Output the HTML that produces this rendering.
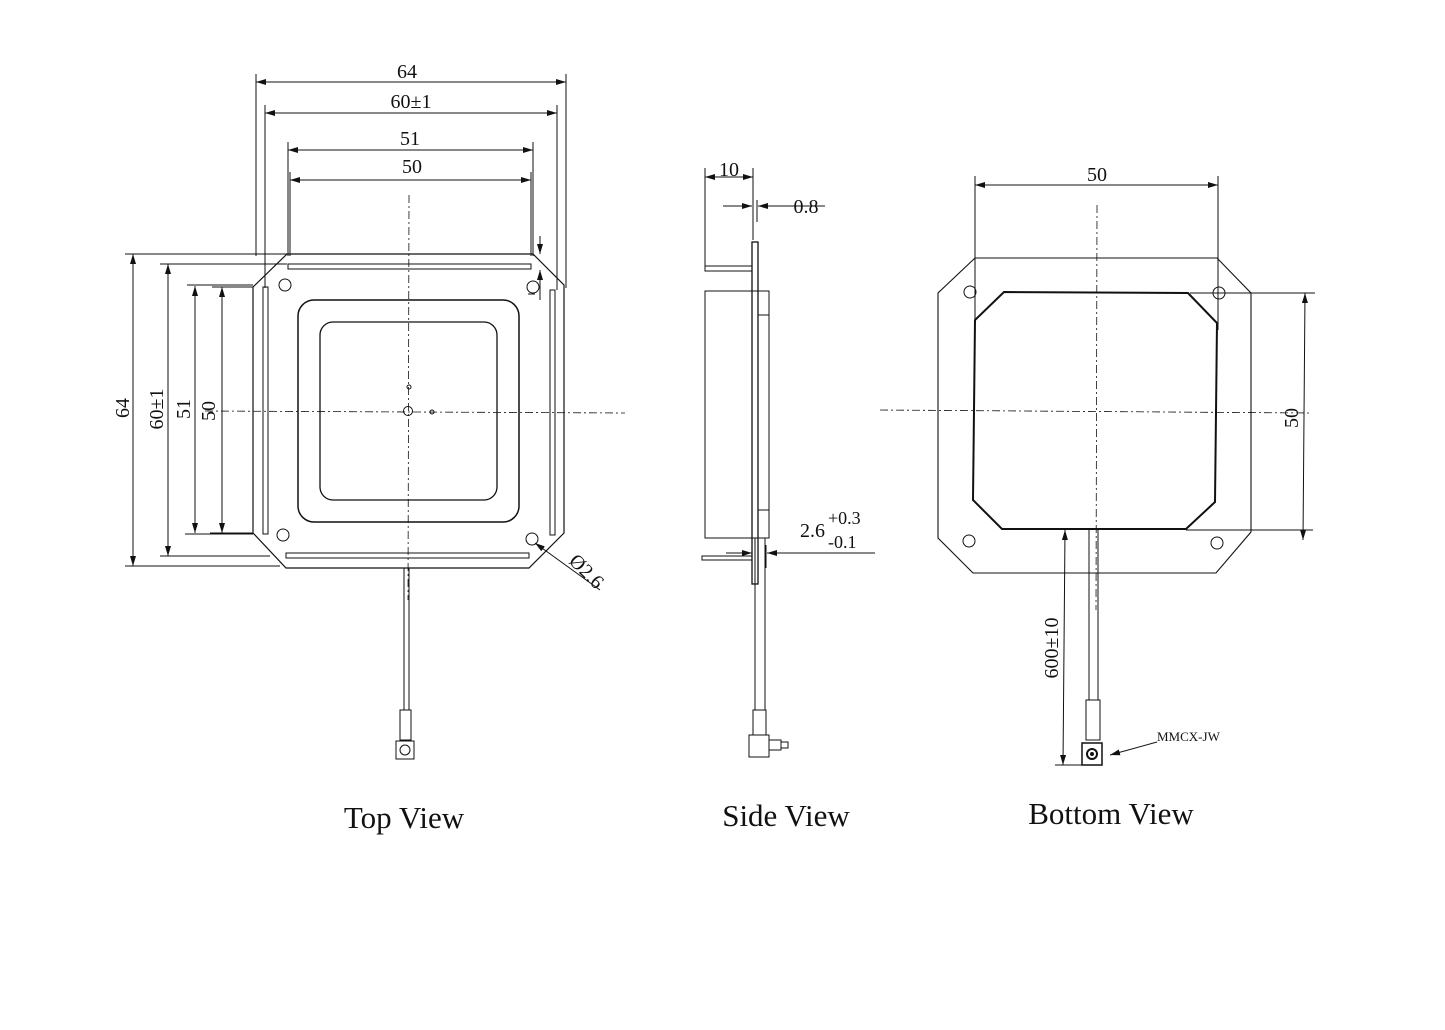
<!DOCTYPE html>
<html><head><meta charset="utf-8"><style>
html,body{margin:0;padding:0;background:#fff}
svg{display:block}
text{font-family:"Liberation Serif",serif;fill:#111}
</style></head><body>
<svg width="1445" height="1030" viewBox="0 0 1445 1030" xmlns="http://www.w3.org/2000/svg">
<defs>
<marker id="a" viewBox="0 0 10 6" refX="10" refY="3" markerWidth="10" markerHeight="6" orient="auto-start-reverse" markerUnits="userSpaceOnUse"><path d="M0,0 L10,3 L0,6z" fill="#111"/></marker>
</defs>
<g stroke="#111" fill="none" stroke-width="1">
<!-- TOP VIEW -->
<path d="M287,254 L533,254 L564,285 L564,533 L529,568 L286,568 L253,533 L253,287 Z" stroke-width="1.2"/>
<rect x="288" y="264" width="243" height="5"/>
<rect x="286" y="553" width="243" height="5"/>
<rect x="263" y="287" width="5" height="247"/>
<rect x="550" y="290" width="5" height="245"/>
<circle cx="285" cy="285" r="6"/><circle cx="533" cy="287" r="6"/>
<circle cx="283" cy="535" r="6"/><circle cx="532" cy="539" r="6"/>
<rect x="298" y="300" width="221" height="222" rx="16" stroke-width="1.5"/>
<rect x="320" y="322" width="177" height="178" rx="13" stroke-width="1.3"/>
<circle cx="408" cy="411" r="4.5"/><circle cx="409" cy="387" r="2"/><circle cx="432" cy="412" r="2"/>
<line x1="409" y1="195" x2="408" y2="600" stroke-dasharray="8,3,2,3" stroke-width="0.8"/>
<line x1="205" y1="411" x2="625" y2="413" stroke-dasharray="8,3,2,3" stroke-width="0.8"/>
<line x1="404" y1="568" x2="404" y2="710"/><line x1="409" y1="568" x2="409" y2="710"/>
<rect x="400" y="710" width="11" height="30"/>
<rect x="396" y="741" width="18" height="18"/><circle cx="405" cy="750" r="5"/>
<!-- top dims -->
<line x1="256" y1="74" x2="256" y2="256"/><line x1="566" y1="74" x2="566" y2="288"/>
<line x1="256" y1="82" x2="566" y2="82" marker-start="url(#a)" marker-end="url(#a)"/>
<line x1="265" y1="105" x2="265" y2="288"/><line x1="557" y1="105" x2="557" y2="290"/>
<line x1="265" y1="113" x2="557" y2="113" marker-start="url(#a)" marker-end="url(#a)"/>
<line x1="288" y1="142" x2="288" y2="256"/><line x1="533" y1="142" x2="533" y2="256"/>
<line x1="288" y1="150" x2="533" y2="150" marker-start="url(#a)" marker-end="url(#a)"/>
<line x1="290" y1="172" x2="290" y2="256"/><line x1="531" y1="172" x2="531" y2="256"/>
<line x1="290" y1="180" x2="531" y2="180" marker-start="url(#a)" marker-end="url(#a)"/>
<line x1="540" y1="236" x2="540" y2="254" marker-end="url(#a)"/>
<line x1="540" y1="300" x2="540" y2="270" marker-end="url(#a)"/>
<line x1="528" y1="294" x2="535" y2="294"/>
<!-- left dims -->
<line x1="125" y1="254" x2="287" y2="254"/><line x1="125" y1="566" x2="280" y2="566"/>
<line x1="133" y1="254" x2="133" y2="566" marker-start="url(#a)" marker-end="url(#a)"/>
<line x1="160" y1="264" x2="287" y2="264"/><line x1="160" y1="556" x2="270" y2="556"/>
<line x1="168" y1="264" x2="168" y2="556" marker-start="url(#a)" marker-end="url(#a)"/>
<line x1="187" y1="285" x2="253" y2="285"/><line x1="185" y1="534" x2="253" y2="534"/>
<line x1="195" y1="286" x2="195" y2="533" marker-start="url(#a)" marker-end="url(#a)"/>
<line x1="212" y1="287" x2="253" y2="287"/><line x1="210" y1="533" x2="253" y2="533"/>
<line x1="222" y1="287" x2="222" y2="533" marker-start="url(#a)" marker-end="url(#a)"/>
<line x1="600" y1="590" x2="535" y2="543" marker-end="url(#a)"/>
<!-- SIDE VIEW -->
<rect x="752" y="242" width="6" height="342" stroke-width="1.3"/>
<rect x="705" y="266" width="47" height="5"/>
<rect x="702" y="556" width="50" height="4"/>
<rect x="705" y="291" width="64" height="247"/>
<line x1="758" y1="315" x2="769" y2="315"/><line x1="758" y1="510" x2="769" y2="510"/>
<line x1="755" y1="538" x2="755" y2="710"/><line x1="765" y1="538" x2="765" y2="710"/>
<rect x="753" y="710" width="13" height="25"/>
<rect x="749" y="735" width="20" height="22"/>
<rect x="769" y="740" width="12" height="10"/><rect x="781" y="742" width="7" height="6"/>
<line x1="705" y1="168" x2="705" y2="266"/><line x1="753" y1="168" x2="753" y2="240"/>
<line x1="705" y1="177" x2="753" y2="177" marker-start="url(#a)" marker-end="url(#a)"/>
<line x1="757" y1="200" x2="757" y2="222"/>
<line x1="723" y1="206" x2="752" y2="206" marker-end="url(#a)"/>
<line x1="825" y1="206" x2="758" y2="206" marker-end="url(#a)"/>
<line x1="726" y1="553" x2="752" y2="553" marker-end="url(#a)"/>
<line x1="875" y1="553" x2="767" y2="553" marker-end="url(#a)"/>
<line x1="766" y1="545" x2="766" y2="568"/>
<!-- BOTTOM VIEW -->
<path d="M975,258 L1217,258 L1251,293 L1251,532 L1216,573 L973,573 L938,538 L938,293 Z" stroke-width="1.1"/>
<circle cx="970" cy="292" r="6"/><circle cx="1219" cy="293" r="6"/>
<circle cx="969" cy="541" r="6"/><circle cx="1217" cy="543" r="6"/>
<path d="M1004,292 L1188,293 L1217,323 L1215,502 L1186,529 L1002,529 L973,500 L975,320 Z" stroke-width="2"/>
<line x1="1097" y1="205" x2="1096" y2="610" stroke-dasharray="8,3,2,3" stroke-width="0.8"/>
<line x1="880" y1="410" x2="1310" y2="413" stroke-dasharray="8,3,2,3" stroke-width="0.8"/>
<line x1="1089" y1="530" x2="1089" y2="700"/><line x1="1098" y1="530" x2="1098" y2="700"/>
<rect x="1086" y="700" width="14" height="40"/>
<rect x="1082" y="743" width="20" height="22" stroke-width="1.5"/><circle cx="1092" cy="754" r="5" stroke-width="2"/><circle cx="1092" cy="754" r="1.5" fill="#111"/>
<line x1="975" y1="176" x2="975" y2="330"/><line x1="1218" y1="176" x2="1218" y2="330"/>
<line x1="975" y1="185" x2="1218" y2="185" marker-start="url(#a)" marker-end="url(#a)"/>
<line x1="1190" y1="293" x2="1315" y2="293"/><line x1="1186" y1="530" x2="1313" y2="530"/>
<line x1="1305" y1="293" x2="1303" y2="540" marker-start="url(#a)" marker-end="url(#a)"/>
<line x1="1065" y1="530" x2="1063" y2="765" marker-start="url(#a)" marker-end="url(#a)"/>
<line x1="1055" y1="765" x2="1082" y2="765"/>
<line x1="1157" y1="742" x2="1110" y2="755" marker-end="url(#a)"/>
</g>
<g font-size="20">
<text x="407" y="78" text-anchor="middle">64</text>
<text x="411" y="108" text-anchor="middle">60±1</text>
<text x="410" y="145" text-anchor="middle">51</text>
<text x="412" y="173" text-anchor="middle">50</text>
<text transform="translate(129,408) rotate(-90)" text-anchor="middle">64</text>
<text transform="translate(163,409) rotate(-90)" text-anchor="middle">60±1</text>
<text transform="translate(190,409) rotate(-90)" text-anchor="middle">51</text>
<text transform="translate(215,411) rotate(-90)" text-anchor="middle">50</text>
<text transform="translate(568,562) rotate(45)">Ø2.6</text>
<text x="729" y="176" text-anchor="middle">10</text>
<text x="806" y="213" text-anchor="middle">0.8</text>
<text x="800" y="537">2.6</text>
<text x="828" y="524" font-size="18">+0.3</text>
<text x="828" y="548" font-size="18">-0.1</text>
<text x="1097" y="181" text-anchor="middle">50</text>
<text transform="translate(1298,418) rotate(-90)" text-anchor="middle">50</text>
<text transform="translate(1058,648) rotate(-90)" text-anchor="middle">600±10</text>
<text x="1157" y="741" font-size="13">MMCX-JW</text>
</g>
<g font-size="31">
<text x="404" y="828" text-anchor="middle">Top View</text>
<text x="786" y="826" text-anchor="middle">Side View</text>
<text x="1111" y="824" text-anchor="middle">Bottom View</text>
</g>
</svg>
</body></html>
